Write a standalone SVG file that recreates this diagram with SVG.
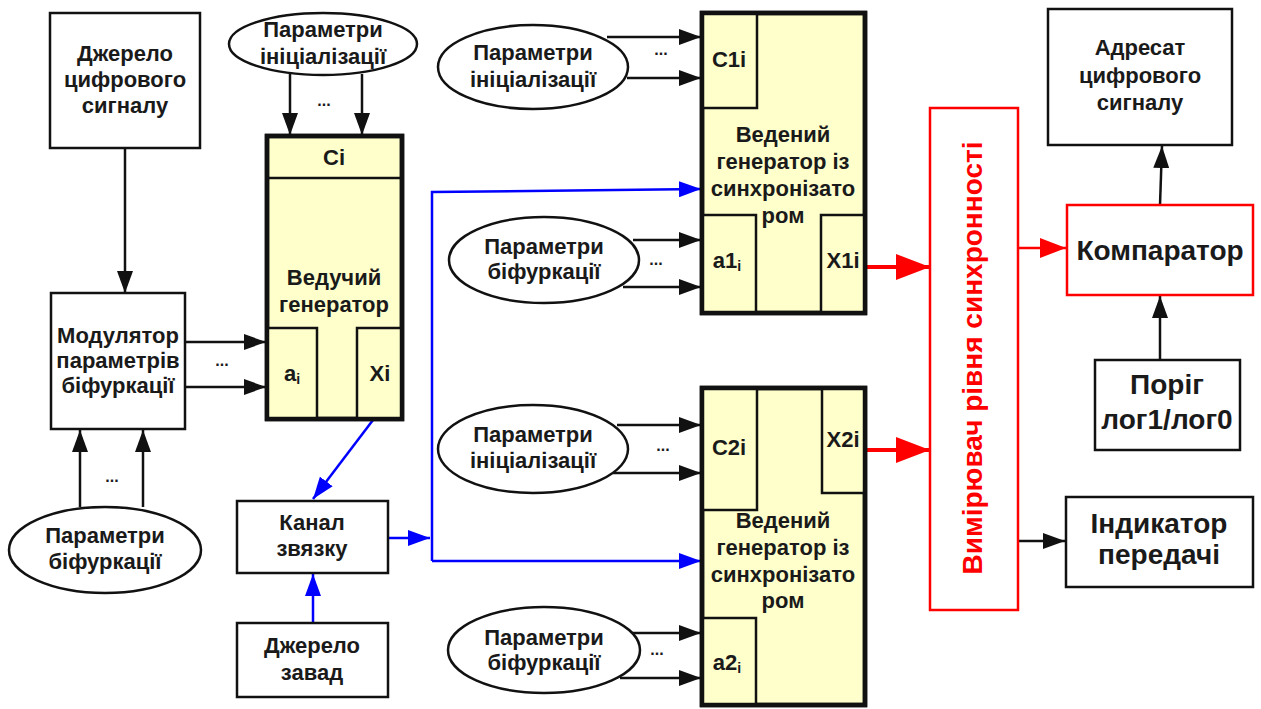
<svg xmlns="http://www.w3.org/2000/svg" width="1261" height="709" viewBox="0 0 1261 709">
<style>
text{font-family:"Liberation Sans",Arial,sans-serif;font-weight:bold;fill:#1a1a1a;text-anchor:middle}
.t{font-size:22px}
.tb{font-size:28px}
.dot{font-size:16px}
.box{fill:#fff;stroke:#111;stroke-width:2.5}
.gen{fill:#ffffcc;stroke:#111;stroke-width:4.5}
.sub{fill:#ffffcc;stroke:#111;stroke-width:2.5}
.ell{fill:#fff;stroke:#111;stroke-width:2.5}
.rbox{fill:#fff;stroke:#ff0000;stroke-width:2.5}
.k{stroke:#111;stroke-width:2.5;fill:none}
.b{stroke:#0000ff;stroke-width:2.5;fill:none}
.r{stroke:#ff0000;stroke-width:4;fill:none}
.r2{stroke:#ff0000;stroke-width:2.5;fill:none}
</style>
<defs>
<marker id="ak" viewBox="0 0 22 16" refX="22" refY="8" markerWidth="22" markerHeight="16" markerUnits="userSpaceOnUse" orient="auto"><path d="M0,0 L22,8 L0,16 z" fill="#111"/></marker>
<marker id="ab" viewBox="0 0 22 16" refX="22" refY="8" markerWidth="22" markerHeight="16" markerUnits="userSpaceOnUse" orient="auto"><path d="M0,0 L22,8 L0,16 z" fill="#0000ff"/></marker>
<marker id="ar" viewBox="0 0 34 26" refX="34" refY="13" markerWidth="34" markerHeight="26" markerUnits="userSpaceOnUse" orient="auto"><path d="M0,0 L34,13 L0,26 z" fill="#ff0000"/></marker>
<marker id="ar2" viewBox="0 0 26 20" refX="26" refY="10" markerWidth="26" markerHeight="20" markerUnits="userSpaceOnUse" orient="auto"><path d="M0,0 L26,10 L0,20 z" fill="#ff0000"/></marker>
</defs>

<g id="connectors">
<line class="k" x1="125" y1="148" x2="125" y2="293" marker-end="url(#ak)"/>
<line class="k" x1="185" y1="342" x2="266" y2="342" marker-end="url(#ak)"/>
<line class="k" x1="185" y1="387" x2="266" y2="387" marker-end="url(#ak)"/>
<text class="dot" x="222" y="366">...</text>
<line class="k" x1="80" y1="507" x2="80" y2="430" marker-end="url(#ak)"/>
<line class="k" x1="143" y1="507" x2="143" y2="430" marker-end="url(#ak)"/>
<text class="dot" x="112" y="482">...</text>
<line class="k" x1="290" y1="74" x2="290" y2="135" marker-end="url(#ak)"/>
<line class="k" x1="362" y1="74" x2="362" y2="135" marker-end="url(#ak)"/>
<text class="dot" x="324" y="106">...</text>
<line class="b" x1="373" y1="420" x2="313" y2="499" marker-end="url(#ab)"/>
<line class="b" x1="313" y1="623" x2="313" y2="574" marker-end="url(#ab)"/>
<line class="b" x1="388" y1="538" x2="430" y2="538" marker-end="url(#ab)"/>
<polyline class="b" points="432,561 432,192 701,189" marker-end="url(#ab)"/>
<line class="b" x1="432" y1="561" x2="701" y2="561" marker-end="url(#ab)"/>
<line class="k" x1="607" y1="37" x2="701" y2="37" marker-end="url(#ak)"/>
<line class="k" x1="627" y1="78" x2="701" y2="78" marker-end="url(#ak)"/>
<text class="dot" x="661" y="55">...</text>
<line class="k" x1="633" y1="240" x2="701" y2="240" marker-end="url(#ak)"/>
<line class="k" x1="623" y1="287" x2="701" y2="287" marker-end="url(#ak)"/>
<text class="dot" x="656" y="265">...</text>
<line class="k" x1="617" y1="425" x2="701" y2="425" marker-end="url(#ak)"/>
<line class="k" x1="613" y1="473" x2="701" y2="473" marker-end="url(#ak)"/>
<text class="dot" x="663" y="451">...</text>
<line class="k" x1="632" y1="633" x2="701" y2="633" marker-end="url(#ak)"/>
<line class="k" x1="620" y1="678" x2="701" y2="678" marker-end="url(#ak)"/>
<text class="dot" x="657" y="655">...</text>
<line class="r" x1="867" y1="267" x2="930" y2="267" marker-end="url(#ar)"/>
<line class="r" x1="867" y1="450" x2="930" y2="450" marker-end="url(#ar)"/>
<line class="r2" x1="1018" y1="248" x2="1066" y2="248" marker-end="url(#ar2)"/>
<line class="k" x1="1160" y1="205" x2="1162" y2="146" marker-end="url(#ak)"/>
<line class="k" x1="1160" y1="360" x2="1160" y2="296" marker-end="url(#ak)"/>
<line class="k" x1="1018" y1="541" x2="1065" y2="541" marker-end="url(#ak)"/>
</g>

<g id="source">
<rect class="box" x="50" y="13" width="150" height="135"/>
<text class="t" x="125" y="61">Джерело</text>
<text class="t" x="125" y="87">цифрового</text>
<text class="t" x="125" y="113">сигналу</text>
</g>

<g id="modulator">
<rect class="box" x="51" y="293" width="134" height="136"/>
<text class="t" x="118" y="343">Модулятор</text>
<text class="t" x="118" y="368">параметрів</text>
<text class="t" x="118" y="393">біфуркації</text>
</g>

<g id="bif-params-left">
<ellipse class="ell" cx="105" cy="550" rx="96" ry="43"/>
<text class="t" x="105" y="543">Параметри</text>
<text class="t" x="105" y="569">біфуркації</text>
</g>

<g id="init-params-top">
<ellipse class="ell" cx="323" cy="44" rx="94" ry="31"/>
<text class="t" x="323" y="37">Параметри</text>
<text class="t" x="323" y="64">ініціалізації</text>
</g>

<g id="master-gen">
<rect class="gen" x="267" y="136" width="135" height="283"/>
<line class="k" x1="267" y1="178" x2="402" y2="178"/>
<rect class="sub" x="267" y="328" width="50" height="91"/>
<rect class="sub" x="357" y="328" width="45" height="91"/>
<rect x="267" y="136" width="135" height="283" fill="none" stroke="#111" stroke-width="4.5"/>
<text class="t" x="334" y="165">Ci</text>
<text class="t" x="334" y="285">Ведучий</text>
<text class="t" x="334" y="312">генератор</text>
<text class="t" x="292" y="381">a<tspan font-size="14" dy="3">i</tspan></text>
<text class="t" x="380" y="381">Xi</text>
</g>

<g id="channel">
<rect class="box" x="237" y="501" width="151" height="72"/>
<text class="t" x="312" y="530">Канал</text>
<text class="t" x="312" y="556">звязку</text>
</g>

<g id="noise">
<rect class="box" x="237" y="623" width="151" height="74"/>
<text class="t" x="312" y="653">Джерело</text>
<text class="t" x="312" y="680">завад</text>
</g>

<g id="init-params-1">
<ellipse class="ell" cx="533" cy="67" rx="95" ry="42"/>
<text class="t" x="533" y="60">Параметри</text>
<text class="t" x="533" y="87">ініціалізації</text>
</g>

<g id="bif-params-1">
<ellipse class="ell" cx="544" cy="260" rx="95" ry="43"/>
<text class="t" x="544" y="254">Параметри</text>
<text class="t" x="544" y="279">біфуркації</text>
</g>

<g id="slave-gen-1">
<rect class="gen" x="702" y="13" width="163" height="300"/>
<rect class="sub" x="702" y="13" width="55" height="95"/>
<rect class="sub" x="702" y="215" width="54" height="98"/>
<rect class="sub" x="821" y="215" width="44" height="98"/>
<rect x="702" y="13" width="163" height="300" fill="none" stroke="#111" stroke-width="4.5"/>
<text class="t" x="729" y="67">C1i</text>
<text class="t" x="783" y="142">Ведений</text>
<text class="t" x="783" y="169">генератор із</text>
<text class="t" x="783" y="196">синхронізато</text>
<text class="t" x="783" y="223">ром</text>
<text class="t" x="727" y="268">a1<tspan font-size="14" dy="3">i</tspan></text>
<text class="t" x="843" y="268">X1i</text>
</g>

<g id="init-params-2">
<ellipse class="ell" cx="533" cy="449" rx="95" ry="44"/>
<text class="t" x="533" y="442">Параметри</text>
<text class="t" x="533" y="468">ініціалізації</text>
</g>

<g id="bif-params-2">
<ellipse class="ell" cx="544" cy="650" rx="96" ry="43"/>
<text class="t" x="544" y="645">Параметри</text>
<text class="t" x="544" y="670">біфуркації</text>
</g>

<g id="slave-gen-2">
<rect class="gen" x="702" y="388" width="163" height="317"/>
<rect class="sub" x="702" y="388" width="55" height="122"/>
<rect class="sub" x="822" y="388" width="43" height="105"/>
<rect class="sub" x="702" y="618" width="54" height="87"/>
<rect x="702" y="388" width="163" height="317" fill="none" stroke="#111" stroke-width="4.5"/>
<text class="t" x="729" y="455">C2i</text>
<text class="t" x="843" y="447">X2i</text>
<text class="t" x="783" y="528">Ведений</text>
<text class="t" x="783" y="555">генератор із</text>
<text class="t" x="783" y="582">синхронізато</text>
<text class="t" x="783" y="608">ром</text>
<text class="t" x="727" y="670">a2<tspan font-size="14" dy="3">i</tspan></text>
</g>

<g id="meter">
<rect class="rbox" x="930" y="108" width="88" height="502"/>
<text class="tb" transform="translate(982,358) rotate(-90)" style="fill:#ff0000">Вимірювач рівня синхронності</text>
</g>

<g id="comparator">
<rect class="rbox" x="1067" y="205" width="186" height="90"/>
<text class="tb" x="1160" y="260">Компаратор</text>
</g>

<g id="receiver">
<rect class="box" x="1048" y="9" width="184" height="136"/>
<text class="t" x="1140" y="55">Адресат</text>
<text class="t" x="1140" y="83">цифрового</text>
<text class="t" x="1140" y="110">сигналу</text>
</g>

<g id="threshold">
<rect class="box" x="1095" y="360" width="145" height="90"/>
<text class="tb" x="1167" y="394">Поріг</text>
<text class="tb" x="1167" y="429">лог1/лог0</text>
</g>

<g id="indicator">
<rect class="box" x="1066" y="497" width="187" height="90"/>
<text class="tb" x="1159" y="533">Індикатор</text>
<text class="tb" x="1159" y="564">передачі</text>
</g>
</svg>
